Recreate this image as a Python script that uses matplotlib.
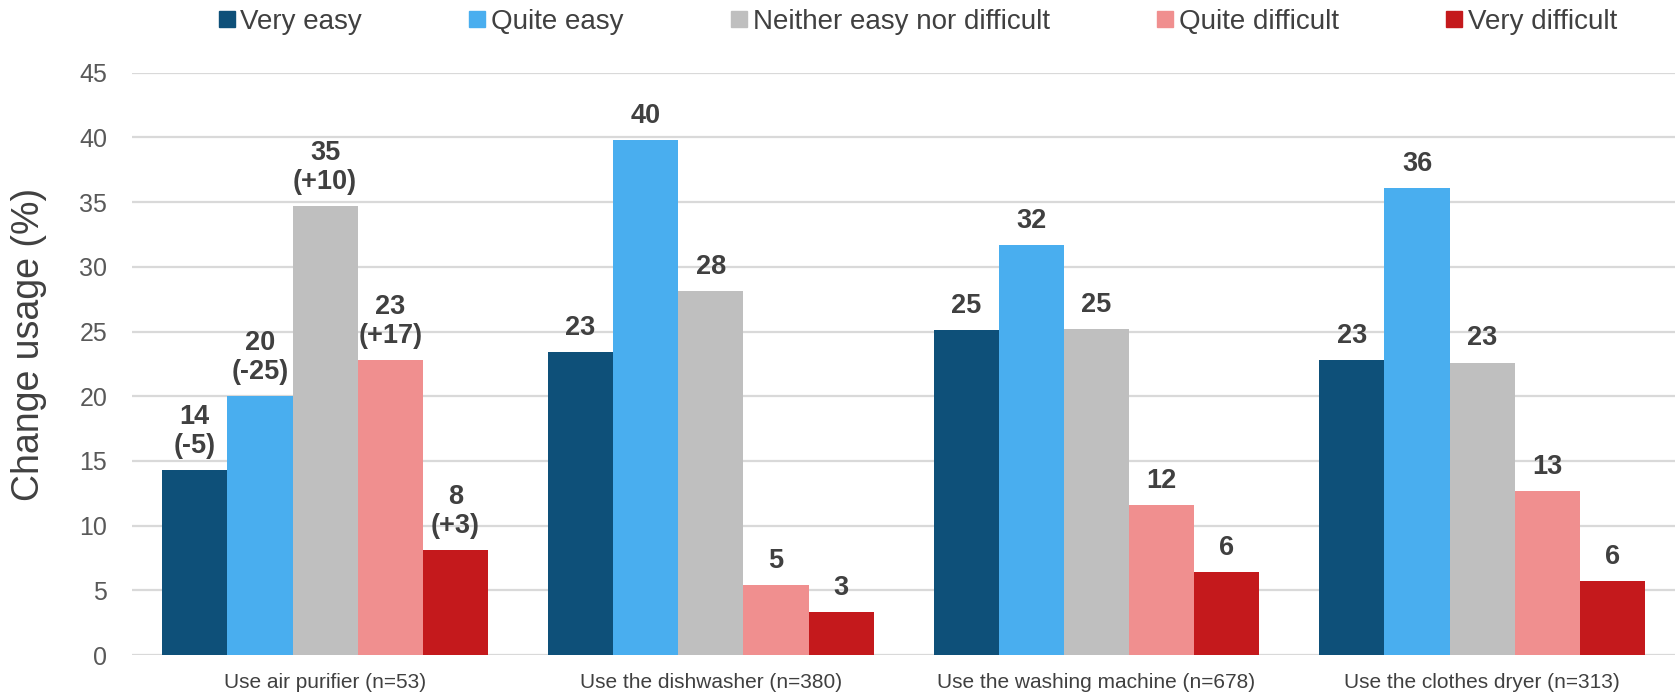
import numpy as np
import matplotlib.pyplot as plt

categories = ["Use air purifier (n=53)", "Use the dishwasher (n=380)",
              "Use the washing machine (n=678)", "Use the clothes dryer (n=313)"]
series_names = ["Very easy", "Quite easy", "Neither easy nor difficult",
                "Quite difficult", "Very difficult"]
very_easy = [14.3, 23.4, 25.1, 22.8]
quite_easy = [20.0, 39.8, 31.7, 36.1]
neither = [34.7, 28.1, 25.2, 22.6]
quite_difficult = [22.8, 5.4, 11.6, 12.7]
very_difficult = [8.1, 3.3, 6.4, 5.7]
# change vs. previous wave, only shown for the first category
changes = [["-5", "-25", "+10", "+17", "+3"], None, None, None]

colors = ["#0E5079", "#49AEEF", "#BFBFBF", "#F08F8F", "#C4191C"]

plt.rcParams['font.family'] = ['Liberation Sans', 'DejaVu Sans']

fig = plt.figure(figsize=(16.75, 6.98), dpi=100)
ax = fig.add_axes([0.079, 0.0616, 0.921, 0.8342])

series = [very_easy, quite_easy, neither, quite_difficult, very_difficult]
x = np.arange(len(categories))
w = 0.169
for i, (name, vals) in enumerate(zip(series_names, series)):
    pos = x + (i - 2) * w
    ax.bar(pos, vals, width=w, color=colors[i], label=name, zorder=3)
    for j, v in enumerate(vals):
        txt = f"{round(v):.0f}"
        if changes[j] is not None:
            txt += f"\n({changes[j][i]})"
        ax.annotate(txt, (pos[j], v), xytext=(0, 8), textcoords="offset points",
                    ha="center", va="bottom", fontsize=19.5, fontweight="bold",
                    color="#404040", linespacing=1.15)

ax.set_xlim(-0.5, 3.5)
ax.set_ylim(0, 45)
ax.set_yticks(np.arange(0, 46, 5))
ax.set_xticks(x)
ax.set_xticklabels(categories, fontsize=15, color="#404040")
ax.tick_params(axis="y", labelsize=18, labelcolor="#595959", length=0, pad=18)
ax.tick_params(axis="x", length=0, pad=13)
ax.grid(axis="y", color="#D9D9D9", linewidth=1.6, zorder=0)
for s in ax.spines.values():
    s.set_visible(False)
ax.set_ylabel("Change usage (%)", fontsize=27, color="#404040")
ax.yaxis.set_label_coords(-0.055, 0.533)

handles = [plt.Line2D([], [], marker="s", linestyle="", markersize=11,
                      color=c) for c in colors]
fig.legend(handles, series_names, loc="upper center", ncol=5,
           bbox_to_anchor=(0.548, 1.023), frameon=False, fontsize=20,
           handletextpad=0.2, columnspacing=3.85, labelcolor="#404040",
           handlelength=0.6)

fig.savefig("out.png", dpi=100)
